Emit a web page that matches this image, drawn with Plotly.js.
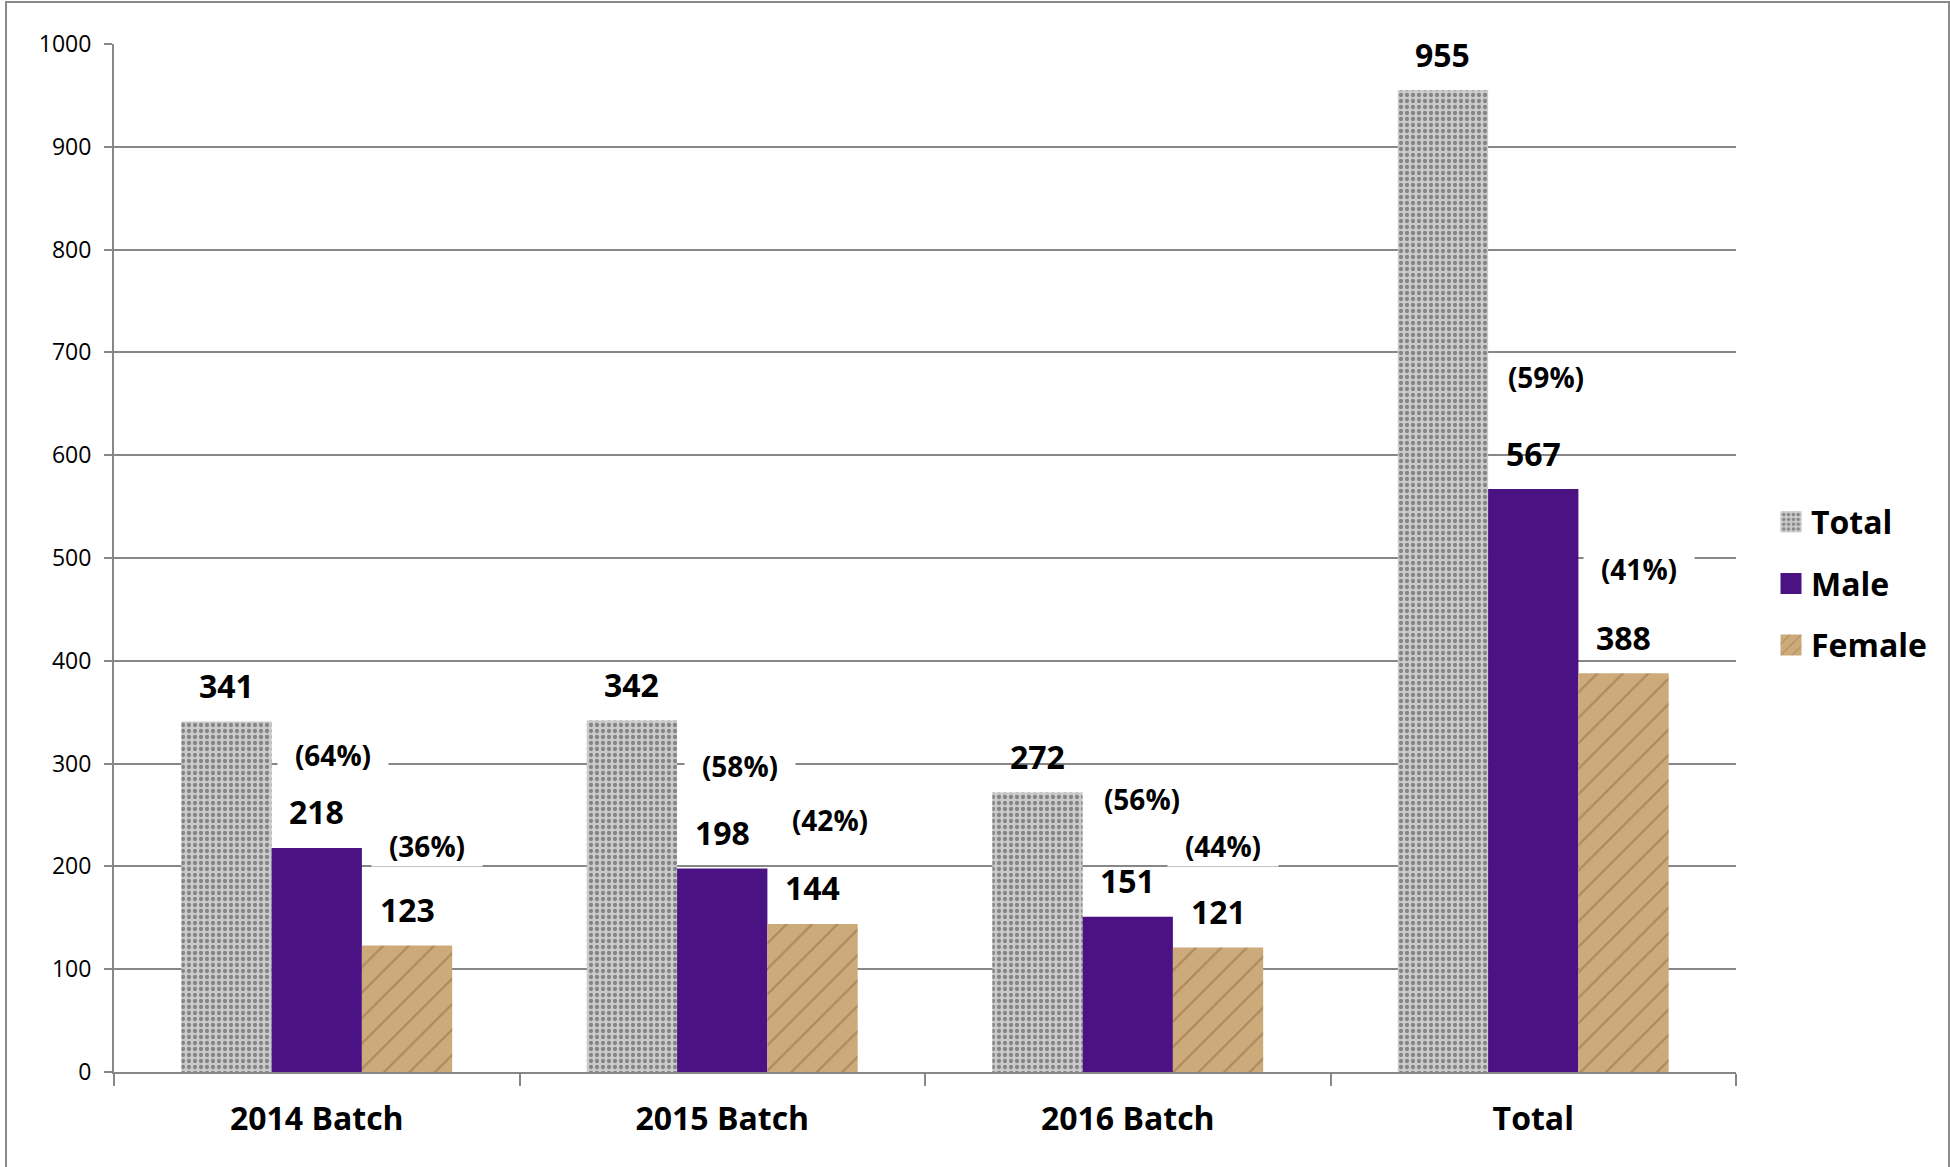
<!DOCTYPE html>
<html>
<head>
<meta charset="utf-8">
<script src="https://cdn.plot.ly/plotly-3.0.1.min.js"></script>
<style>
  html, body { margin: 0; padding: 0; background: #fff; }
  #chart { width: 1950px; height: 1167px; }
</style>
</head>
<body>
<div id="chart"></div>
<script>
// ---- data ----
const categories   = ['2014 Batch', '2015 Batch', '2016 Batch', 'Total'];
const totalValues  = [341, 342, 272, 955];
const maleValues   = [218, 198, 151, 567];
const femaleValues = [123, 144, 121, 388];
const malePct      = ['(64%)', '(58%)', '(56%)', '(59%)'];
const femalePct    = ['(36%)', '(42%)', '(44%)', '(41%)'];

// ---- layout / style settings ----
const FONT = "'Open Sans', 'Noto Sans', sans-serif";
const GRID = '#878787';
const BARGAP = 0.332;
const SLOT = (1 - BARGAP) / 3;          // width of one bar in category units
const NUM_SHIFT = 36;                    // px above bar top for value labels
const PCT_EXTRA = 4;
// hand-placed percentage boxes: [x nudge px, y px above bar top]
const maleNudge   = [[16, 89], [18, 98], [14, 114], [13, 108]];
const femaleNudge = [[20, 96], [17, 100], [5, 98], [15, 100]];
const M = { l: 114, r: 214, t: 44, b: 95 };
const W = 1950, H = 1167;
const PW = W - M.l - M.r, PH = H - M.t - M.b;

const traces = [
  {
    type: 'bar', name: 'Total', x: categories, y: totalValues, legendgroup: 'g1',
    marker: { color: '#c4c4c4', line: { width: 0 },
      pattern: { shape: '.', bgcolor: '#cbcbcb', fgcolor: '#858585', size: 6, solidity: 0.4 } }
  },
  {
    type: 'bar', name: 'Male', x: categories, y: maleValues, legendgroup: 'g2',
    marker: { color: '#4a1282', line: { width: 0 } }
  },
  {
    type: 'bar', name: 'Female', x: categories, y: femaleValues, legendgroup: 'g3',
    marker: { color: '#c8a273', line: { width: 0 },
      pattern: { shape: '/', bgcolor: '#cdaa7a', fgcolor: '#ad895c', size: 18, solidity: 0.12 } }
  }
];

const annotations = [];
const seriesVals = [totalValues, maleValues, femaleValues];
// value labels
seriesVals.forEach((vals, j) => {
  vals.forEach((v, i) => {
    annotations.push({
      x: i + (j - 1) * SLOT, y: v, xref: 'x', yref: 'y',
      text: String(v), showarrow: false, xanchor: 'center', yanchor: 'middle',
      yshift: NUM_SHIFT,
      font: { family: FONT, size: 32, weight: 'bold', color: '#000' }
    });
  });
});
// percentage labels (white boxes that mask gridlines)
[[malePct, maleValues, maleNudge, 0], [femalePct, femaleValues, femaleNudge, 1]].forEach(([txt, vals, nudge, k]) => {
  txt.forEach((t, i) => {
    annotations.unshift({
      x: i + k * SLOT, y: vals[i], xref: 'x', yref: 'y',
      text: t, showarrow: false, xanchor: 'center', yanchor: 'middle',
      xshift: nudge[i][0], yshift: nudge[i][1] + PCT_EXTRA,
      width: 108, borderpad: 1, bgcolor: '#ffffff',
      font: { family: FONT, size: 28, weight: 'bold', color: '#000' }
    });
  });
});

const layout = {
  width: W, height: H,
  margin: M,
  paper_bgcolor: '#ffffff', plot_bgcolor: '#ffffff',
  barmode: 'group', bargap: BARGAP, bargroupgap: 0,
  hovermode: false,
  font: { family: FONT, color: '#000' },
  xaxis: {
    type: 'category', showline: true, linecolor: GRID, linewidth: 2,
    ticks: 'outside', tickson: 'boundaries', ticklen: 12, tickwidth: 2, tickcolor: GRID,
    showgrid: false, zeroline: false,
    tickfont: { family: FONT, size: 32, weight: 'bold', color: '#000' },
    ticklabelstandoff: 18
  },
  yaxis: {
    range: [0, 1000], tick0: 0, dtick: 100, fixedrange: true,
    showline: true, linecolor: GRID, linewidth: 2,
    ticks: 'outside', ticklen: 8, tickwidth: 2, tickcolor: GRID,
    showgrid: true, gridcolor: GRID, gridwidth: 2, zeroline: false,
    tickfont: { family: FONT, size: 23, color: '#000' },
    ticklabelstandoff: 8
  },
  legend: {
    xref: 'container', yref: 'container', x: 1771 / W, y: 0.5,
    xanchor: 'left', yanchor: 'middle',
    traceorder: 'grouped', tracegroupgap: 17,
    bgcolor: 'rgba(0,0,0,0)', borderwidth: 0,
    font: { family: FONT, size: 32, weight: 'bold', color: '#000' }
  },
  showlegend: true,
  annotations: annotations,
  shapes: [{
    type: 'rect', xref: 'paper', yref: 'paper', layer: 'above',
    x0: (6 - M.l) / PW, x1: (1949 - M.l) / PW,
    y0: (M.t + PH - 1172) / PH, y1: (M.t + PH - 2) / PH,
    line: { color: '#8a8a8a', width: 2 }, fillcolor: 'rgba(0,0,0,0)'
  }]
};

function enlargeLegendSymbols() {
  document.querySelectorAll('#chart .legend .legendpoints path').forEach(p => {
    p.setAttribute('d', 'M10.5,10.5H-10.5V-10.5H10.5Z');
  });
}

Plotly.newPlot('chart', traces, layout, { displayModeBar: false, staticPlot: true }).then(enlargeLegendSymbols);
</script>
</body>
</html>
